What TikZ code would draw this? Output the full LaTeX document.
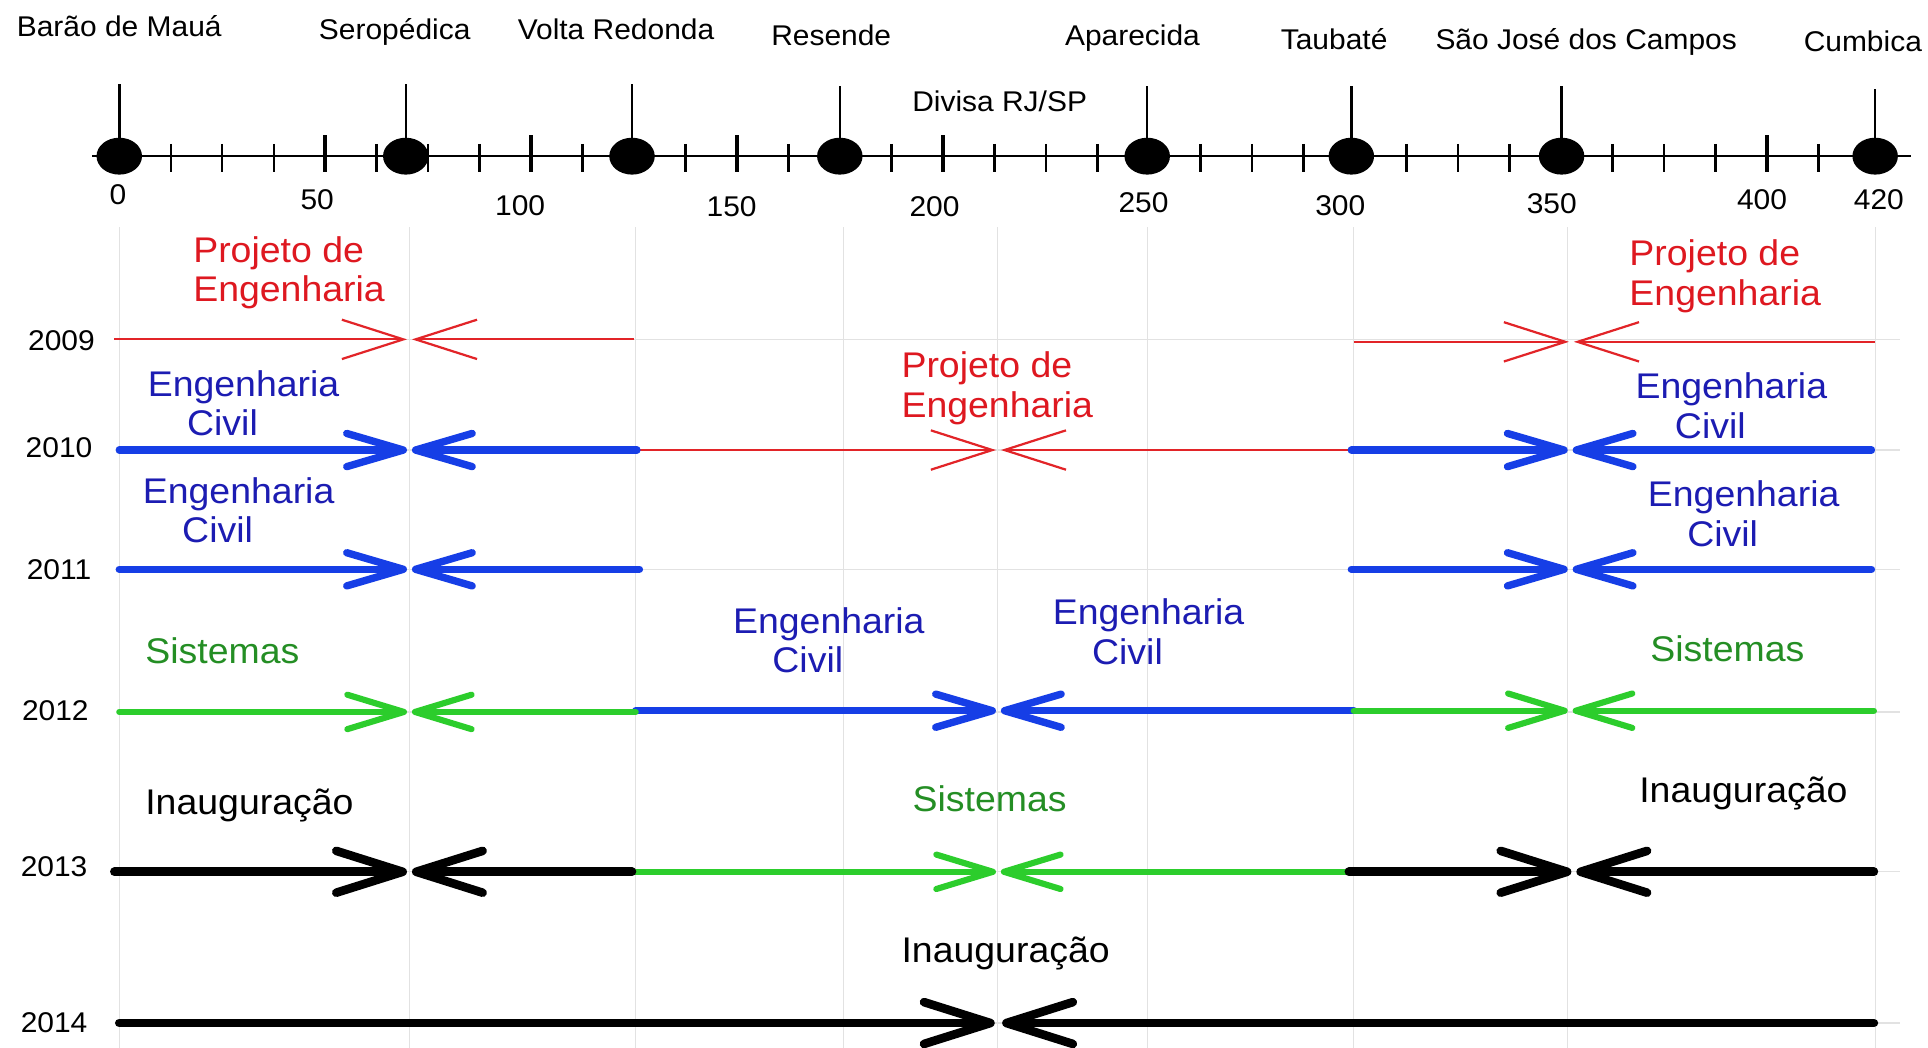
\documentclass[tikz,border=0pt]{standalone}
\usepackage{fontspec}
\setmainfont{Liberation Sans}[FakeStretch=1.05]
\usetikzlibrary{arrows.meta,shapes.geometric}
\definecolor{redL}{RGB}{226,36,40}
\definecolor{redT}{RGB}{222,24,32}
\definecolor{blueL}{RGB}{22,62,230}
\definecolor{blueT}{RGB}{28,28,178}
\definecolor{greenL}{RGB}{44,205,44}
\definecolor{greenT}{RGB}{36,142,36}
\definecolor{gridc}{RGB}{226,226,226}
\begin{document}
\begin{tikzpicture}[x=1pt,y=-1pt,
  small/.style={font=\fontsize{23.2}{27}\selectfont, inner sep=0pt, anchor=base},
  big/.style={font=\fontsize{29}{32}\selectfont, inner sep=0pt, align=left, anchor=north west},
  bigone/.style={font=\fontsize{29}{32}\selectfont, inner sep=0pt, anchor=base west},
  stdot/.style={ellipse, fill=black, minimum width=37pt, minimum height=30pt, inner sep=0pt},
  gridln/.style={draw=gridc, line width=1pt},
  axisln/.style={draw=black, line width=2pt},
  mintick/.style={draw=black, line width=2pt},
  majtick/.style={draw=black, line width=3pt},
  stem/.style={draw=black, line width=2pt},
  redln/.style={draw=redL, line width=1.8pt, -{Straight Barb[length=50pt,width=32pt]}},
  blueln/.style={draw=blueL, line width=6pt, line cap=round, -{Straight Barb[length=46pt,width=27pt,round]}},
  greenln/.style={draw=greenL, line width=5pt, line cap=round, -{Straight Barb[length=46pt,width=28pt,round]}},
  blackln/.style={draw=black, line width=7pt, line cap=round, -{Straight Barb[length=54pt,width=34pt,round]}},
  redtxt/.style={text=redT},
  bluetxt/.style={text=blueT},
  greentxt/.style={text=greenT},
]
\useasboundingbox[fill=white] (0,0) rectangle (1568,852);

% grid
\foreach \gx in {97,333,517,686,811,933,1101,1275,1525}
  \draw[gridln] (\gx,185) -- (\gx,852);
\foreach \gy in {276,366,463,579,709,832}
  \draw[gridln] (97,\gy) -- (1545,\gy);

% axis
\coordinate (axL) at (75,127);
\coordinate (axR) at (1554,127);
\draw[axisln] (axL) -- (axR);
\foreach \i in {1,2,3,5,6,7,9,11,13,15,17,18,19,21,22,23,25,26,27,29,30,31,33}
  \draw[mintick] ({97+41.875*\i},117) -- ({97+41.875*\i},140);
\foreach \i in {4,8,12,16,32}
  \draw[majtick] ({97+41.875*\i},110) -- ({97+41.875*\i},140);

% stations
\coordinate (t1) at (97,68);
\coordinate (t2) at (330,68);
\coordinate (t3) at (514,68);
\coordinate (t4) at (683,70);
\coordinate (t5) at (933,70);
\coordinate (t6) at (1099,70);
\coordinate (t7) at (1270,70);
\coordinate (t8) at (1525,72);
\node[stdot] (d1) at (97,127) {};
\node[stdot] (d2) at (330,127) {};
\node[stdot] (d3) at (514,127) {};
\node[stdot] (d4) at (683,127) {};
\node[stdot] (d5) at (933,127) {};
\node[stdot] (d6) at (1099,127) {};
\node[stdot] (d7) at (1270,127) {};
\node[stdot] (d8) at (1525,127) {};
\foreach \k in {1,...,8} \draw[stem] (d\k.center) -- (t\k);

\node[small] (s1) at (97,30) {Barão de Mauá};
\node[small] (s2) at (321,32) {Seropédica};
\node[small] (s3) at (501,32) {Volta Redonda};
\node[small] (s4) at (676,37) {Resende};
\node[small] (s5) at (921,37) {Aparecida};
\node[small] (s6) at (1085,40) {Taubaté};
\node[small] (s7) at (1290,40) {São José dos Campos};
\node[small] (s8) at (1515,42) {Cumbica};
\node[small] (div) at (813,91) {Divisa RJ/SP};

% km numbers
\node[small] (k0) at (96,166) {0};
\node[small] (k50) at (258,170) {50};
\node[small] (k100) at (423,175) {100};
\node[small] (k150) at (595,176) {150};
\node[small] (k200) at (760,176) {200};
\node[small] (k250) at (930,173) {250};
\node[small] (k300) at (1090,175) {300};
\node[small] (k350) at (1262,174) {350};
\node[small] (k400) at (1433,170) {400};
\node[small] (k420) at (1528,170) {420};

% years
\node[small] (y09) at (50,285) {2009};
\node[small] (y10) at (48,372) {2010};
\node[small] (y11) at (48,471) {2011};
\node[small] (y12) at (45,586) {2012};
\node[small] (y13) at (44,713) {2013};
\node[small] (y14) at (44,840) {2014};

% row 2009
\coordinate (a09) at (93,276);   \coordinate (m09a) at (331,276);
\coordinate (b09) at (516,276);  \coordinate (m09b) at (335,276);
\coordinate (c09) at (1101,278); \coordinate (n09a) at (1276,278);
\coordinate (e09) at (1525,278); \coordinate (n09b) at (1280,278);
\draw[redln] (a09) -- (m09a);
\draw[redln] (b09) -- (m09b);
\draw[redln] (c09) -- (n09a);
\draw[redln] (e09) -- (n09b);

% row 2010
\coordinate (a10) at (97,366);   \coordinate (m10a) at (331,366);
\coordinate (b10) at (518,366);  \coordinate (m10b) at (335,366);
\coordinate (c10) at (1099,366); \coordinate (p10a) at (810,366);
\coordinate (p10b) at (814,366);
\coordinate (e10) at (1522,366); \coordinate (n10a) at (1275,366);
\coordinate (n10b) at (1279,366);
\draw[redln] (b10) -- (p10a);
\draw[redln] (c10) -- (p10b);
\draw[blueln] (a10) -- (m10a);
\draw[blueln] (b10) -- (m10b);
\draw[blueln] (c10) -- (n10a);
\draw[blueln] (e10) -- (n10b);

% row 2011
\coordinate (a11) at (97,463);   \coordinate (m11a) at (331,463);
\coordinate (b11) at (520,463);  \coordinate (m11b) at (335,463);
\coordinate (c11) at (1099,463); \coordinate (n11a) at (1275,463);
\coordinate (e11) at (1522,463); \coordinate (n11b) at (1279,463);
\draw[blueln] (a11) -- (m11a);
\draw[blueln] (b11) -- (m11b);
\draw[blueln] (c11) -- (n11a);
\draw[blueln] (e11) -- (n11b);

% row 2012
\coordinate (a12) at (97,579);   \coordinate (m12a) at (331,579);
\coordinate (b12) at (517,579);  \coordinate (m12b) at (335,579);
\coordinate (p12a) at (810,578); \coordinate (p12b) at (814,578);
\coordinate (c12) at (1101,578); \coordinate (n12a) at (1275,578);
\coordinate (e12) at (1524,578); \coordinate (n12b) at (1279,578);
\coordinate (b12x) at (517,578);
\draw[blueln] (b12x) -- (p12a);
\draw[blueln] (c12) -- (p12b);
\draw[greenln] (a12) -- (m12a);
\draw[greenln] (b12) -- (m12b);
\draw[greenln] (c12) -- (n12a);
\draw[greenln] (e12) -- (n12b);

% row 2013
\coordinate (a13) at (93,709);   \coordinate (m13a) at (331,709);
\coordinate (b13) at (514,709);  \coordinate (m13b) at (335,709);
\coordinate (p13a) at (810,709); \coordinate (p13b) at (814,709);
\coordinate (c13) at (1097,709); \coordinate (n13a) at (1278,709);
\coordinate (e13) at (1524,709); \coordinate (n13b) at (1282,709);
\draw[greenln] (b13) -- (p13a);
\draw[greenln] (c13) -- (p13b);
\draw[blackln] (a13) -- (m13a);
\draw[blackln] (b13) -- (m13b);
\draw[blackln] (c13) -- (n13a);
\draw[blackln] (e13) -- (n13b);

% row 2014
\coordinate (a14) at (97,832);   \coordinate (p14a) at (809,832);
\coordinate (e14) at (1524,832); \coordinate (p14b) at (815,832);
\draw[blackln] (a14) -- (p14a);
\draw[blackln] (e14) -- (p14b);

% labels
\node[big,redtxt] (lr1) at (157,192) {Projeto de\\Engenharia};
\node[big,redtxt] (lr2) at (733,286) {Projeto de\\Engenharia};
\node[big,redtxt] (lr3) at (1325,195) {Projeto de\\Engenharia};
\node[big,bluetxt] (lb1) at (120,301) {Engenharia\\\hspace*{32pt}Civil};
\node[big,bluetxt] (lb2) at (1330,303) {Engenharia\\\hspace*{32pt}Civil};
\node[big,bluetxt] (lb3) at (116,388) {Engenharia\\\hspace*{32pt}Civil};
\node[big,bluetxt] (lb4) at (1340,391) {Engenharia\\\hspace*{32pt}Civil};
\node[big,bluetxt] (lb5) at (596,494) {Engenharia\\\hspace*{32pt}Civil};
\node[big,bluetxt] (lb6) at (856,487) {Engenharia\\\hspace*{32pt}Civil};
\node[bigone,greentxt] (lg1) at (118,540) {Sistemas};
\node[bigone,greentxt] (lg2) at (1342,538) {Sistemas};
\node[bigone,greentxt] (lg3) at (742,660) {Sistemas};
\node[bigone] (lk1) at (118,662) {Inauguração};
\node[bigone] (lk2) at (1333,653) {Inauguração};
\node[bigone] (lk3) at (733,783) {Inauguração};
\end{tikzpicture}
\end{document}
